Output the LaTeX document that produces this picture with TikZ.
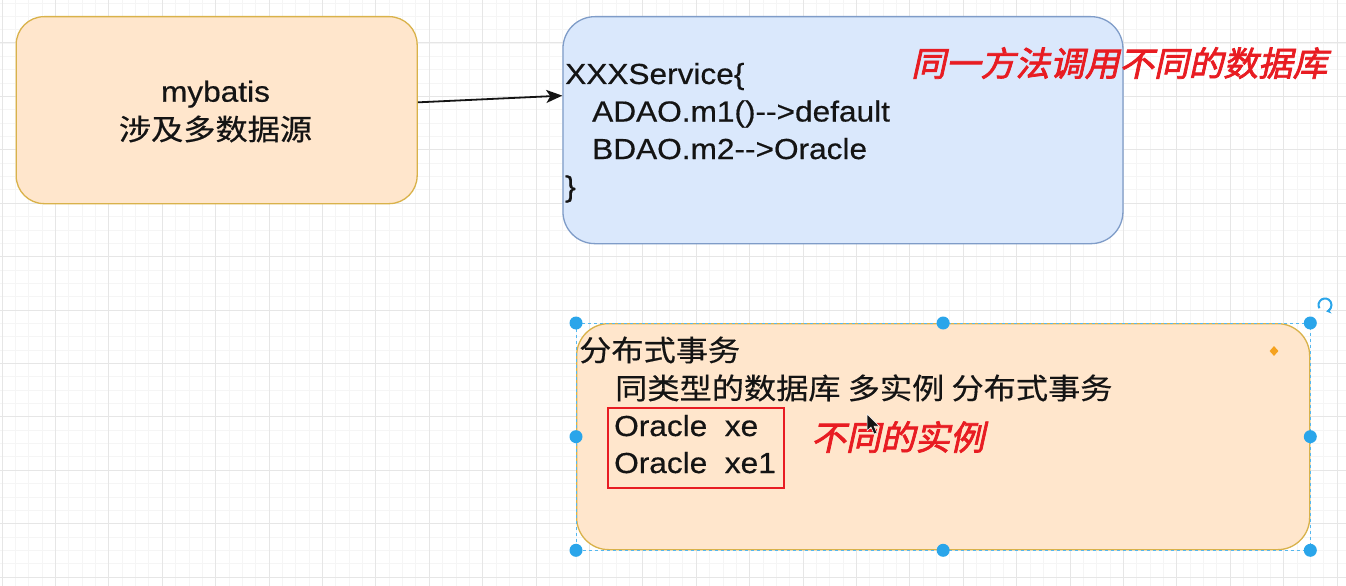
\documentclass[tikz,border=0pt]{standalone}
\usepackage{fontspec}
\setmainfont{Liberation Sans}[FakeStretch=1.09,FakeBold=0.5]
\newfontfamily\cjk{Noto Sans CJK SC}[FakeStretch=1.11,FakeBold=0.5]
\newfontfamily\cjkred{Noto Sans CJK SC}[FakeStretch=1.02,FakeSlant=0.22,FakeBold=2.2]
\usetikzlibrary{arrows.meta,shapes.geometric}
\definecolor{peach}{HTML}{FFE6CC}
\definecolor{gold}{HTML}{D9B24A}
\definecolor{bluefill}{HTML}{DAE8FC}
\definecolor{bluestroke}{HTML}{7F9CC8}
\definecolor{ink}{HTML}{141414}
\definecolor{redc}{RGB}{232,28,34}
\definecolor{handlec}{HTML}{2AA5EA}
\definecolor{gridminor}{HTML}{F5F5F5}
\definecolor{gridmajor}{HTML}{E6E6E6}
\definecolor{diam}{HTML}{F5A21F}
\newcommand\darrow{-\kern0pt-\kern0pt>}
\begin{document}
\begin{tikzpicture}[x=1pt,y=-1pt,
  txt/.style={inner sep=0pt, anchor=base west, text=ink, font=\fontsize{29}{35}\selectfont},
  ctxt/.style={txt, anchor=base},
  redtxt/.style={inner sep=0pt, anchor=base west, text=redc, font=\fontsize{34}{40}\selectfont\cjkred},
  peachbox/.style={draw=gold, fill=peach, line width=1.3pt, rounded corners=28pt, anchor=north west, inner sep=0pt},
  bluebox/.style={draw=bluestroke, fill=bluefill, line width=1.3pt, rounded corners=32pt, anchor=north west, inner sep=0pt},
  handle/.style={circle, fill=handlec, inner sep=0pt, minimum size=13pt},
  seldash/.style={draw=handlec!80, line width=1pt, dash pattern=on 3pt off 3pt},
  conn/.style={-{Stealth[length=16pt,width=13pt,inset=4pt]}, line width=1.8pt, draw=ink},
  redbox/.style={draw=redc, line width=1.6pt},
  gmin/.style={draw=gridminor, line width=0.8pt},
  gmaj/.style={draw=gridmajor, line width=1pt}
]
\useasboundingbox (0,0) rectangle (1346,586);
\clip (0,0) rectangle (1346,586);
\fill[white] (0,0) rectangle (1346,586);
% grid
\foreach \i in {0,...,101} {
  \draw[gmin] ({2+\i*13.35},0) -- ({2+\i*13.35},586);
}
\foreach \j in {0,...,48} {
  \draw[gmin] (0,{43+(\j-4)*13.35}) -- (1346,{43+(\j-4)*13.35});
}
\foreach \i in {0,...,25} {
  \draw[gmaj] ({2+\i*53.4},0) -- ({2+\i*53.4},586);
}
\foreach \j in {0,...,12} {
  \draw[gmaj] (0,{43+(\j-1)*53.4}) -- (1346,{43+(\j-1)*53.4});
}

% boxes
\node[peachbox, minimum width=401pt, minimum height=187pt] (b1) at (15.5,16) {};
\node[bluebox, minimum width=560pt, minimum height=227pt] (b2) at (562.3,16) {};
\node[peachbox, rounded corners=32pt, minimum width=733pt, minimum height=226pt] (b3) at (576,323) {};

% box 1 text
\node[ctxt] (t1) at (215.5,101.7) {mybatis};
\node[ctxt] (t2) at (215.5,140) {\cjk 涉及多数据源};

% connector
\draw[conn] ([yshift=7.8pt]b1.east) -- ([yshift=34.5pt]b2.west);

% box 2 text
\node[txt] (s1) at (565,84) {XXXService\{};
\node[txt] (s2) at (592,121.5) {ADAO.m1()\darrow default};
\node[txt] (s3) at (592,159) {BDAO.m2\darrow Oracle};
\node[txt] (s4) at (565,196.5) {\}};

% red note 1
\node[redtxt] (r1) at (911,76) {同一方法调用不同的数据库};

% selection frame of box 3
\draw[seldash] (b3.north west) rectangle (b3.south east);

% box 3 text
\node[txt] (d1) at (579,361) {\cjk 分布式事务};
\node[txt] (d2) at (615,399) {\cjk 同类型的数据库 多实例 分布式事务};
\node[txt] (d3) at (614,436) {Oracle\ \ xe};
\node[txt] (d4) at (614,473) {Oracle\ \ xe1};
\node[redbox, inner sep=0pt, minimum width=176pt, minimum height=80pt, anchor=north west] (rb) at (607,407) {};
\node[redtxt] (r2) at (811,450) {不同的实例};

% handles
\foreach \a [count=\k] in {north west,north,north east,west,east,south west,south,south east} {
  \node[handle] (h\k) at (b3.\a) {};
}
% orange diamond
\node[diamond, fill=diam, inner sep=0pt, minimum width=9pt, minimum height=10pt] (dm) at (1274,351) {};
% rotate icon
\coordinate (rc) at (1325,305);
\draw[handlec, line width=2pt, -{Stealth[length=5pt,width=6pt]}] ([shift={(150:6.5)}]rc) arc[start angle=150, end angle=440, radius=6.5];
% mouse cursor
\fill[ink, draw=white, line width=0.5pt] (867,414) -- (867,431) -- (871,427) -- (874,434) -- (877,433) -- (874,426) -- (879,426) -- cycle;
\end{tikzpicture}
\end{document}
